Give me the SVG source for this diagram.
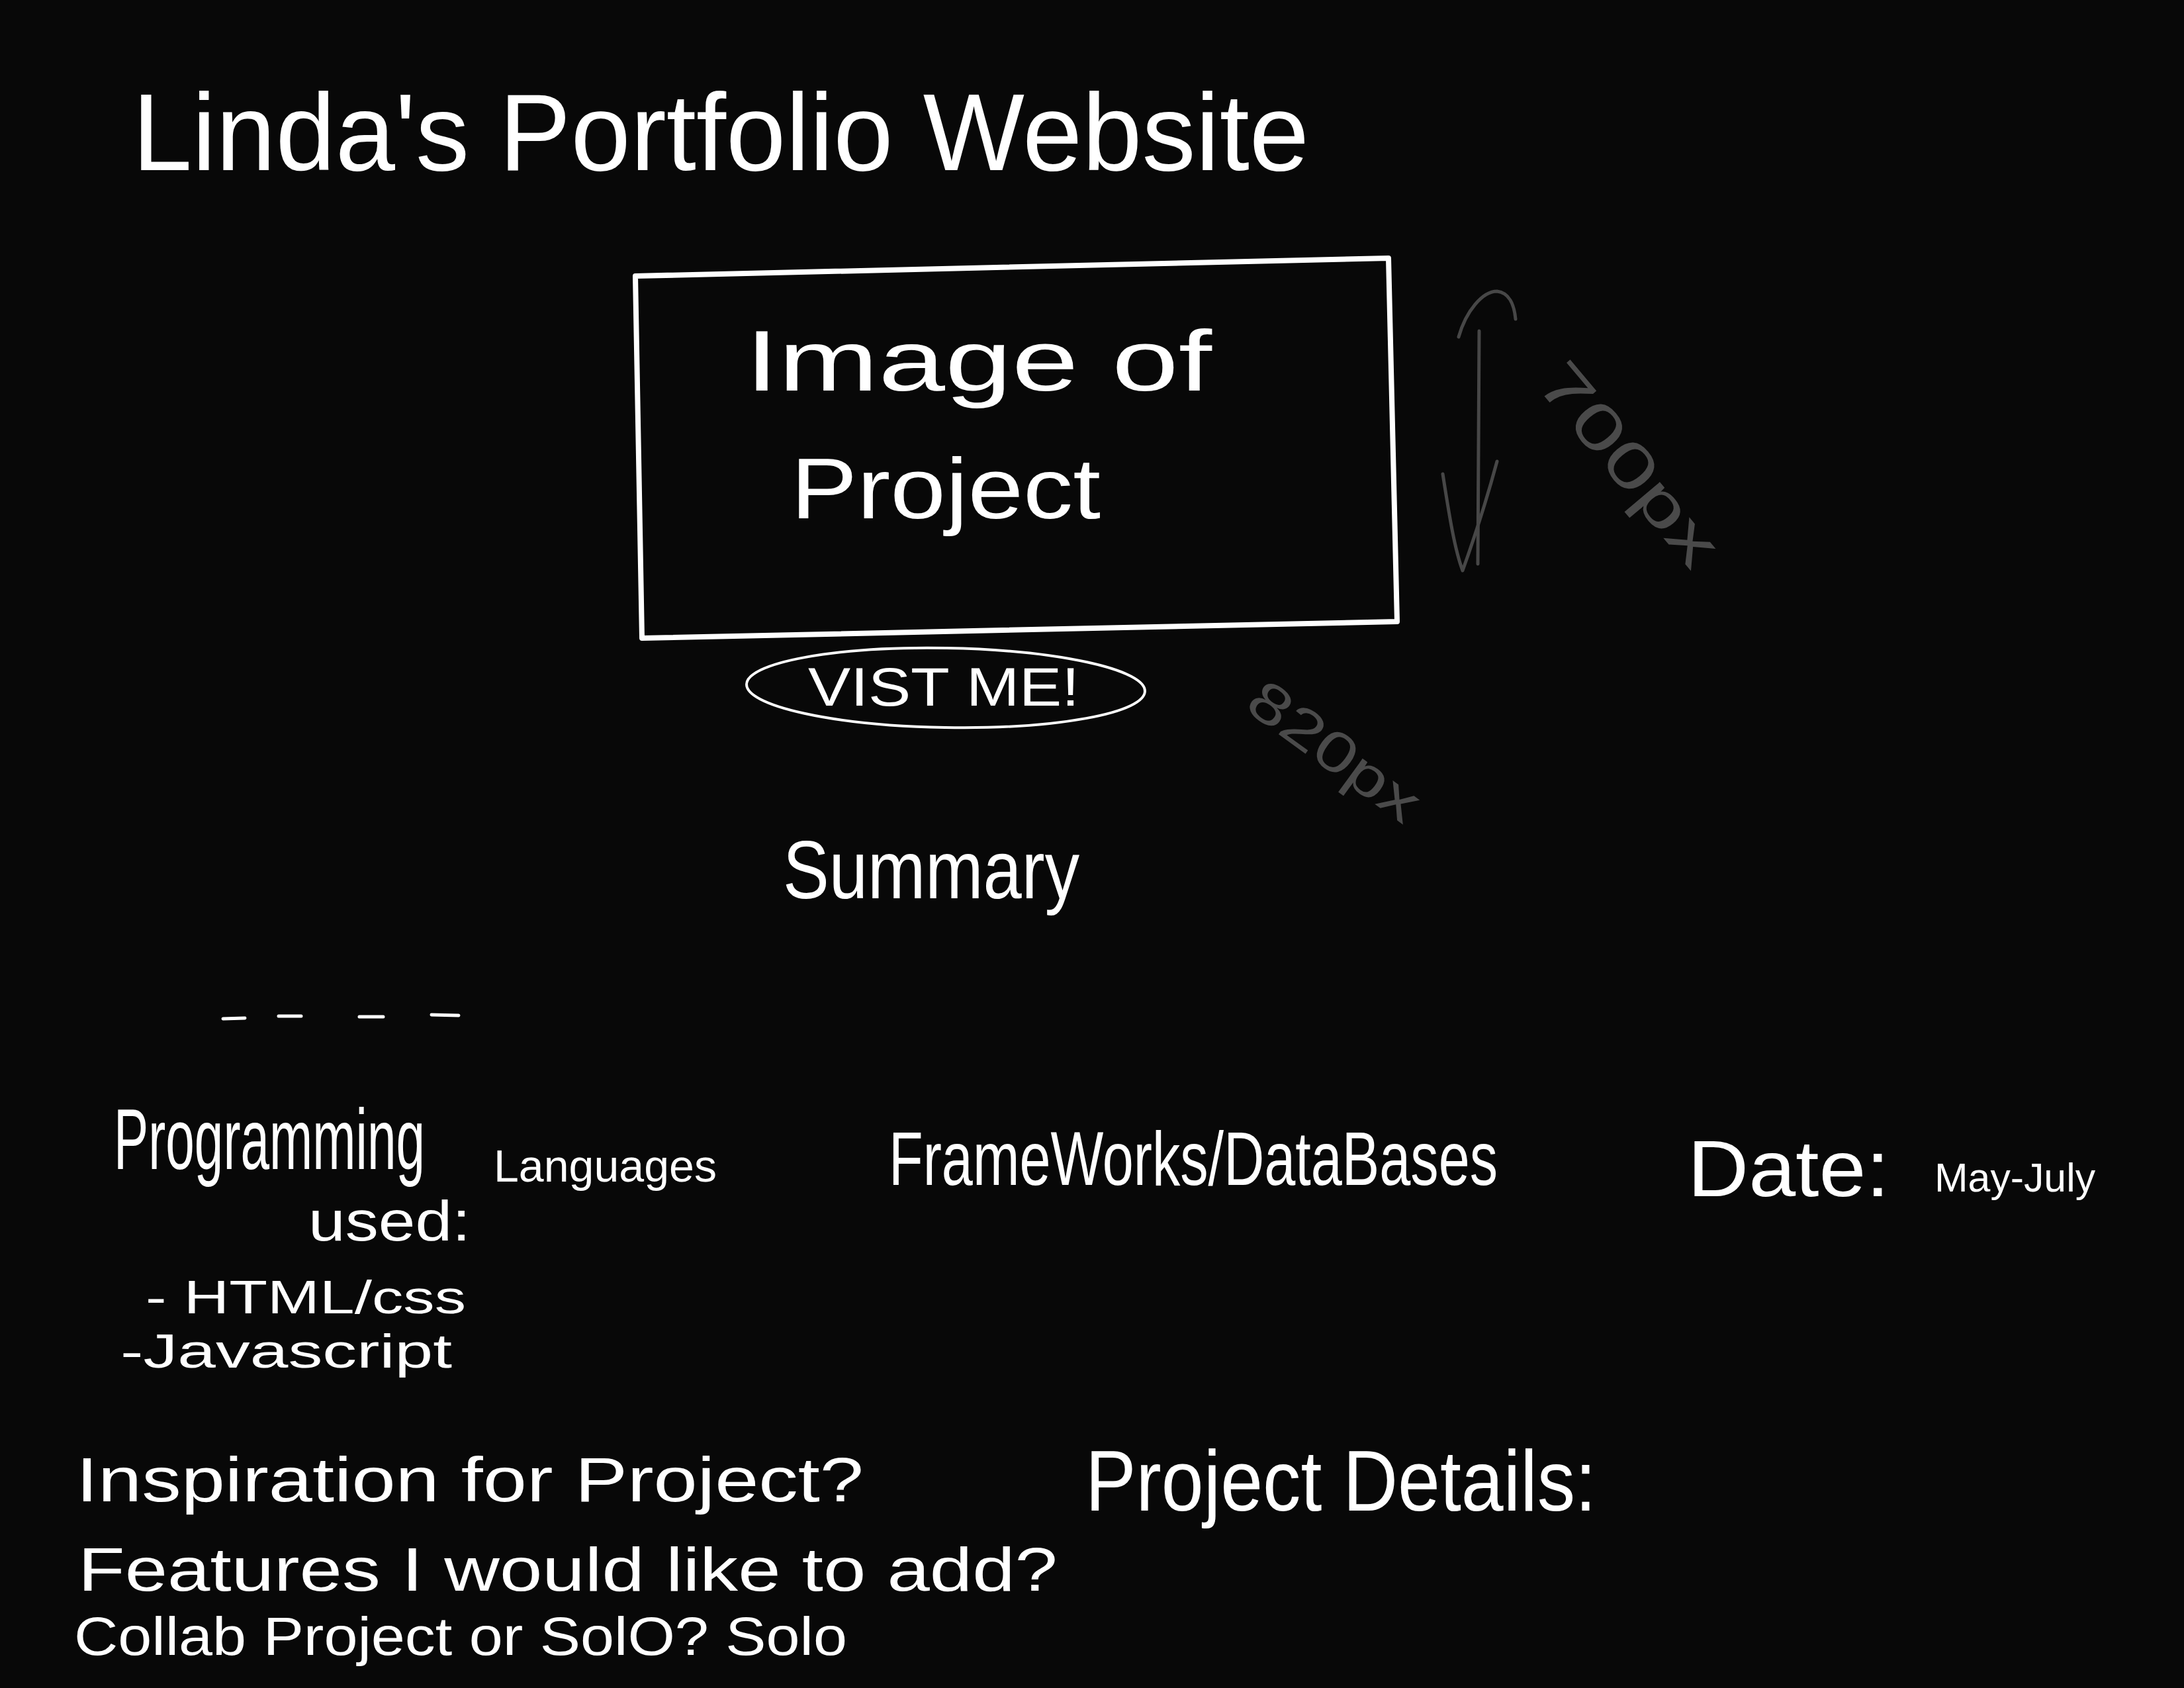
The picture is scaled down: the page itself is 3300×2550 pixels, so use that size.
<svg xmlns="http://www.w3.org/2000/svg" width="3300" height="2550" viewBox="0 0 3300 2550">
<style>
.w{fill:#ffffff;font-family:"Liberation Sans",sans-serif;}
.g{fill:#4a4a4a;font-family:"Liberation Sans",sans-serif;}
.ln{fill:none;stroke:#ffffff;stroke-linecap:round;stroke-linejoin:round;}
.gl{fill:none;stroke:#474747;stroke-width:5;stroke-linecap:round;stroke-linejoin:round;}
</style>
<rect x="0" y="0" width="3300" height="2550" fill="#080808"/>
<g id="title"><text class="w" x="200" y="257" font-size="165" textLength="1778" lengthAdjust="spacingAndGlyphs">Linda's Portfolio Website</text></g>
<g id="image-box">
<polygon class="ln" stroke-width="8" points="960,417 2098,390 2111,939 970,964"/>
<text class="w" x="1126" y="590" font-size="130" textLength="705" lengthAdjust="spacingAndGlyphs">Image of</text>
<text class="w" x="1195" y="783" font-size="130" textLength="468" lengthAdjust="spacingAndGlyphs">Project</text>
</g>
<g id="connectors">
<path class="gl" d="M2235,500 L2233,852"/>
<path class="gl" d="M2204,509 C2215,470 2240,440 2262,440 C2280,442 2288,460 2290,482"/>
<path class="gl" d="M2180,716 C2190,780 2198,830 2210,862 C2225,820 2245,760 2262,697"/>
</g>
<g id="dim-700"><text class="g" x="2318" y="580" font-size="95" transform="rotate(50 2318 580)" textLength="370" lengthAdjust="spacingAndGlyphs">700px</text></g>
<g id="visit-button">
<ellipse class="ln" stroke-width="4" cx="1429" cy="1039" rx="301" ry="60" transform="rotate(1 1429 1039)"/>
<text class="w" x="1221" y="1066" font-size="82" textLength="410" lengthAdjust="spacingAndGlyphs">VIST ME!</text>
</g>
<g id="dim-820"><text class="g" x="1878" y="1070" font-size="85" transform="rotate(36 1878 1070)" textLength="300" lengthAdjust="spacingAndGlyphs">820px</text></g>
<g id="summary"><text class="w" x="1183" y="1357" font-size="125" textLength="448" lengthAdjust="spacingAndGlyphs">Summary</text></g>
<g id="dashes">
<path class="ln" stroke-width="5" d="M337,1539 L370,1538 M421,1535 L455,1535 M543,1536 L579,1536 M652,1533 L693,1534"/>
</g>
<g id="languages">
<text class="w" x="0" y="0" font-size="78" transform="translate(172 1766) scale(1 1.67)" textLength="470" lengthAdjust="spacingAndGlyphs">Programming</text>
<text class="w" x="746" y="1785" font-size="68" textLength="337" lengthAdjust="spacingAndGlyphs">Languages</text>
<text class="w" x="466" y="1874" font-size="86" textLength="245" lengthAdjust="spacingAndGlyphs">used:</text>
<text class="w" x="220" y="1984" font-size="70" textLength="484" lengthAdjust="spacingAndGlyphs">- HTML/css</text>
<text class="w" x="182" y="2066" font-size="72" textLength="501" lengthAdjust="spacingAndGlyphs">-Javascript</text>
</g>
<g id="frameworks"><text class="w" x="0" y="0" font-size="81" transform="translate(1343 1790) scale(1 1.42)" textLength="920" lengthAdjust="spacingAndGlyphs">FrameWorks/DataBases</text></g>
<g id="date">
<text class="w" x="2550" y="1807" font-size="120" textLength="305" lengthAdjust="spacingAndGlyphs">Date:</text>
<text class="w" x="2923" y="1800" font-size="62" textLength="243" lengthAdjust="spacingAndGlyphs">May-July</text>
</g>
<g id="inspiration"><text class="w" x="115" y="2268" font-size="95" textLength="1190" lengthAdjust="spacingAndGlyphs">Inspiration for Project?</text></g>
<g id="details"><text class="w" x="1640" y="2282" font-size="130" textLength="772" lengthAdjust="spacingAndGlyphs">Project Details:</text></g>
<g id="features"><text class="w" x="118" y="2403" font-size="92" textLength="1480" lengthAdjust="spacingAndGlyphs">Features I would like to add?</text></g>
<g id="collab"><text class="w" x="112" y="2500" font-size="82" textLength="1168" lengthAdjust="spacingAndGlyphs">Collab Project or SolO? Solo</text></g>
</svg>
